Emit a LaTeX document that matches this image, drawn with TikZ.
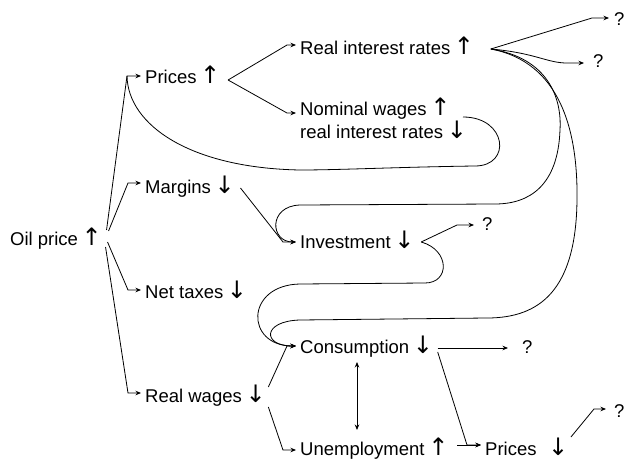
\documentclass[tikz,border=0pt]{standalone}
\usepackage{fontspec}
\setmainfont{Liberation Sans}
\newfontfamily\arrfont[Scale=1.3]{DejaVu Sans}
\usetikzlibrary{arrows.meta}
\newcommand{\uarr}{{\arrfont\kern-1.5pt↑\kern-1.5pt}}
\newcommand{\darr}{{\arrfont\kern-1.5pt↓\kern-1.5pt}}

\tikzset{
  lbl/.style={anchor=base west, inner sep=0pt, font=\fontsize{18.5}{21}\selectfont},
  arrowline/.style={line width=0.8pt, -{Stealth[length=5.5pt,width=4.5pt]}},
  loopline/.style={line width=0.8pt}
}

\begin{document}
\begin{tikzpicture}[x=1pt, y=-1pt]
\useasboundingbox (0,0) rectangle (625,461);

% labels
\node[lbl] (oil) at (10,245) {Oil price \uarr};
\node[lbl] (pri) at (145,83) {Prices \uarr};
\node[lbl] (mar) at (145,193) {Margins \darr};
\node[lbl] (tax) at (145,298) {Net taxes \darr};
\node[lbl] (wag) at (145,402) {Real wages \darr};
\node[lbl] (rir) at (300,54) {Real interest rates \uarr};
\node[lbl, align=left] (nom) at (300,138) {Nominal wages \uarr\\real interest rates \darr};
\node[lbl] (inv) at (300,248) {Investment \darr};
\node[lbl] (con) at (300,353) {Consumption \darr};
\node[lbl] (une) at (300,455) {Unemployment \uarr};
\node[lbl] (pr2) at (485,455) {Prices\hspace{13pt}\darr};
\node[lbl] (q1) at (614,25) {?};
\node[lbl] (q2) at (593,67) {?};
\node[lbl] (q3) at (482,230) {?};
\node[lbl] (q4) at (522,353) {?};
\node[lbl] (q5) at (614,417) {?};

\coordinate (rirout) at ([shift={(18,-5)}]rir.base east);

% oil price fan
\draw[arrowline] ([shift={(6,-15)}]oil.base east) -- ([shift={(-18,-7)}]pri.base west) -- ([shift={(-4,-7)}]pri.base west);
\draw[arrowline] ([shift={(8,-14)}]oil.base east) -- ([shift={(-17,-10)}]mar.base west) -- ([shift={(-4,-10)}]mar.base west);
\draw[arrowline] ([shift={(7,-3)}]oil.base east) -- ([shift={(-17,-8)}]tax.base west) -- ([shift={(-4,-8)}]tax.base west);
\draw[arrowline] ([shift={(5,2)}]oil.base east) -- ([shift={(-17,-9)}]wag.base west) -- ([shift={(-4,-9)}]wag.base west);

% prices
\draw[arrowline] ([shift={(9,-3)}]pri.base east) -- ([shift={(-13,-9)}]rir.base west) -- ([shift={(-4,-9)}]rir.base west);
\draw[arrowline] ([shift={(9,-3)}]pri.base east) -- ([shift={(-13,-25)}]nom.base west) -- ([shift={(-4,-25)}]nom.base west);
\draw[loopline] ([shift={(163,-21)}]nom.base west) .. controls (507,117) and (512,166) .. (475,166)
  .. controls (400,167) and (340,170) .. (300,170) .. controls (190,168) and (128,125) .. ([shift={(-18,-7)}]pri.base west);

% margins, real wages
\draw[arrowline] ([shift={(7,-5)}]mar.base east) -- ([shift={(-17,-6)}]inv.base west) -- ([shift={(-4,-6)}]inv.base west);
\draw[arrowline] ([shift={(4,-15)}]wag.base east) -- ([shift={(-13,-7)}]con.base west) -- ([shift={(-4,-7)}]con.base west);
\draw[arrowline] ([shift={(4,5)}]wag.base east) -- ([shift={(-17,-5)}]une.base west) -- ([shift={(-4,-5)}]une.base west);

% real interest rates
\draw[arrowline] (rirout) -- ([shift={(-22,-7)}]q1.base west) -- ([shift={(-5,-7)}]q1.base west);
\draw[arrowline] (rirout) .. controls +(45,4) and +(-20,0) .. ([shift={(-26,-4)}]q2.base west) -- ([shift={(-9,-4)}]q2.base west);
\draw[arrowline] (rirout) .. controls (548,58) and (562,98) .. (560,130) .. controls (558,185) and (530,204) .. (495,204)
  -- (300,205) .. controls (268,206) and (270,242) .. ([shift={(-4,-6)}]inv.base west);
\draw[arrowline] (rirout) .. controls (560,62) and (578,130) .. (577,200) .. controls (576,290) and (540,318) .. (487,318)
  -- (300,320) .. controls (262,321) and (262,346) .. ([shift={(-4,-7)}]con.base west);

% investment
\draw[arrowline] ([shift={(8,-6)}]inv.base east) -- ([shift={(-25,-5)}]q3.base west) -- ([shift={(-8,-5)}]q3.base west);
\draw[arrowline] ([shift={(8,-6)}]inv.base east) .. controls (450,250) and (450,283) .. (425,283)
  -- (300,284) .. controls (245,285) and (245,346) .. ([shift={(-4,-7)}]con.base west);

% consumption, unemployment
\draw[line width=0.8pt, {Stealth[length=5.5pt,width=4.5pt]}-{Stealth[length=5.5pt,width=4.5pt]}] ([shift={(57,9)}]con.base west) -- ([shift={(57,-25)}]une.base west);
\draw[arrowline] ([shift={(6,-5)}]con.base east) -- ([shift={(-14,-5)}]q4.base west);
\draw[arrowline] ([shift={(6,-1)}]con.base east) -- ([shift={(-18,-10)}]pr2.base west) -- ([shift={(-4,-10)}]pr2.base west);
\draw[arrowline] ([shift={(10,-10)}]une.base east) -- ([shift={(-4,-10)}]pr2.base west);
\draw[arrowline] ([shift={(4,-18)}]pr2.base east) -- ([shift={(-20,-8)}]q5.base west) -- ([shift={(-8,-8)}]q5.base west);
\end{tikzpicture}
\end{document}
